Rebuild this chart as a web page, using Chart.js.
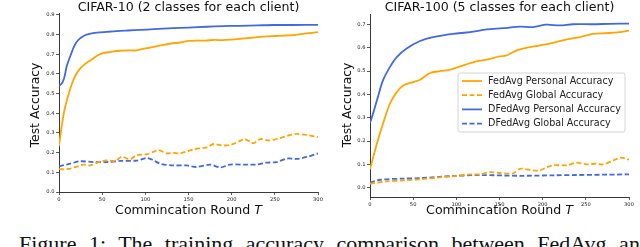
<!DOCTYPE html>
<html>
<head>
<meta charset="utf-8">
<script src="https://cdn.jsdelivr.net/npm/chart.js@4"></script>
<style>
  html, body { margin: 0; padding: 0; background: #fff; overflow: hidden; }
  body { width: 640px; height: 247px; position: relative; }
  #c10 { position: absolute; left: 0; top: 0; }
  #c100 { position: absolute; left: 325px; top: 0; }
  #caption {
    position: absolute; left: 19px; top: 233px; white-space: nowrap; line-height: 22px;
    font-family: "Liberation Serif", serif; font-size: 22px; color: #111; word-spacing: 7px;
  }
</style>
</head>
<body>
<canvas id="c10" width="330" height="226"></canvas>
<canvas id="c100" width="315" height="226"></canvas>
<div id="caption">Figure 1: The training accuracy comparison between FedAvg and DFedAvg</div>
<script>
// ---- data ----
const seriesNames = ["FedAvg Personal Accuracy", "FedAvg Global Accuracy", "DFedAvg Personal Accuracy", "DFedAvg Global Accuracy"];
const xTicks = [0, 50, 100, 150, 200, 250, 300];
const c10YTicks = [0, 0.1, 0.2, 0.3, 0.4, 0.5, 0.6, 0.7, 0.8, 0.9];
const c100YTicks = [0, 0.1, 0.2, 0.3, 0.4, 0.5, 0.6, 0.7];

// CIFAR-10
const c10FedPersT = [0,3,6,10,15,20,25,30,35,40,45,50,60,70,80,90,100,110,120,130,140,150,160,170,180,190,200,210,220,230,240,250,260,270,280,290,300];
const c10FedPers  = [0.233,0.33,0.41,0.48,0.55,0.60,0.63,0.65,0.665,0.68,0.695,0.705,0.712,0.718,0.72,0.72,0.73,0.738,0.747,0.755,0.76,0.768,0.77,0.77,0.773,0.772,0.775,0.779,0.783,0.787,0.791,0.793,0.795,0.797,0.803,0.808,0.813];
const c10FedGlobT = [0,9,17,28,36,46,55,65,73,82,90,102,110,115,125,132,140,156,171,179,188,198,210,215,225,233,244,256,266,275,287,300];
const c10FedGlob  = [0.116,0.116,0.123,0.139,0.135,0.152,0.161,0.158,0.179,0.166,0.187,0.192,0.205,0.213,0.196,0.199,0.196,0.217,0.227,0.244,0.237,0.239,0.26,0.27,0.248,0.269,0.262,0.274,0.288,0.295,0.29,0.279];
const c10DPersT = [0,3,6,9,13,17,20,24,28,32,38,44,55,67,80,94,110,132,150,171,190,210,230,248,270,300];
const c10DPers  = [0.54,0.55,0.58,0.64,0.69,0.735,0.76,0.78,0.792,0.80,0.806,0.81,0.814,0.818,0.821,0.824,0.828,0.833,0.836,0.84,0.843,0.845,0.847,0.849,0.849,0.85];
const c10DGlobT = [0,13,24,40,55,71,90,102,109,117,132,148,159,175,187,198,217,229,240,252,264,275,287,300];
const c10DGlob  = [0.13,0.144,0.156,0.152,0.152,0.158,0.16,0.173,0.162,0.144,0.135,0.135,0.127,0.139,0.125,0.139,0.139,0.14,0.149,0.152,0.17,0.168,0.178,0.196];

// CIFAR-100
const c100FedPersT = [0,8,15,23,31,39,50,58,69,81,93,104,120,135,150,158,170,181,197,212,228,243,251,258,274,289,300];
const c100FedPers  = [0.079,0.19,0.274,0.36,0.41,0.439,0.453,0.463,0.491,0.50,0.506,0.52,0.539,0.549,0.563,0.567,0.589,0.60,0.61,0.621,0.636,0.646,0.653,0.66,0.663,0.667,0.674];
const c100FedGlobT = [0,19,39,58,77,96,116,127,139,150,162,166,174,189,197,204,212,228,239,251,262,270,282,291,300];
const c100FedGlob  = [0.017,0.027,0.031,0.036,0.043,0.049,0.057,0.057,0.067,0.063,0.06,0.062,0.081,0.074,0.074,0.086,0.096,0.096,0.107,0.10,0.103,0.10,0.117,0.129,0.12];
const c100DPersT = [0,4,10,15,23,31,42,58,73,96,116,135,154,174,189,204,220,235,258,278,300];
const c100DPers  = [0.277,0.324,0.40,0.46,0.517,0.56,0.596,0.629,0.646,0.66,0.667,0.679,0.684,0.691,0.689,0.699,0.696,0.701,0.701,0.703,0.704];
const c100DGlobT = [0,12,39,58,96,127,174,212,300];
const c100DGlob  = [0.021,0.034,0.039,0.041,0.05,0.054,0.051,0.053,0.057];

const ORANGE = '#FFA500';
const BLUE = '#4169E1';
const FONT = "'DejaVu Sans', sans-serif";

function pts(ts, vs) {
    return ts.map((t, i) => ({x: t, y: vs[i]}));
}

function makeSets(fp, fg, dp, dg) {
    const styles = [[ORANGE, []], [ORANGE, [5, 2.5]], [BLUE, []], [BLUE, [5, 2.5]]];
    return [fp, fg, dp, dg].map((d, i) => ({
        label: seriesNames[i],
        data: d,
        borderColor: styles[i][0],
        borderDash: styles[i][1],
        borderWidth: 1.8,
        pointRadius: 0,
        tension: 0.3,
        fill: false
    }));
}

// titles / axis labels drawn at fixed spots around the plot
const figText = {
    id: 'figText',
    afterDraw(chart, args, opts) {
        const ctx = chart.ctx;
        const a = chart.chartArea;
        ctx.save();
        ctx.fillStyle = '#111';
        ctx.textBaseline = 'middle';
        ctx.font = "12.6px " + FONT;
        ctx.textAlign = 'center';
        ctx.fillText(opts.title, (a.left + a.right) / 2, 7.5);

        // x label with italic T
        const main = 'Commincation Round ';
        const w1 = ctx.measureText(main).width;
        ctx.font = "italic 12.6px " + FONT;
        const w2 = ctx.measureText('T').width;
        const x0 = (a.left + a.right) / 2 - (w1 + w2) / 2;
        ctx.textAlign = 'left';
        ctx.font = "12.6px " + FONT;
        ctx.fillText(main, x0, 210.5);
        ctx.font = "italic 12.6px " + FONT;
        ctx.fillText('T', x0 + w1, 210.5);

        // y label
        ctx.font = "12.4px " + FONT;
        ctx.textAlign = 'center';
        ctx.translate(opts.yTitleX, 105);
        ctx.rotate(-Math.PI / 2);
        ctx.fillText('Test Accuracy', 0, 0);
        ctx.restore();

        if (opts.legend) {
            const L = opts.legend;
            ctx.save();
            ctx.beginPath();
            ctx.roundRect(L.x, L.y, L.w, L.h, 2);
            ctx.fillStyle = 'rgba(255,255,255,0.85)';
            ctx.fill();
            ctx.strokeStyle = '#d4d4d4';
            ctx.lineWidth = 1;
            ctx.stroke();
            ctx.font = "9.6px " + FONT;
            ctx.textBaseline = 'middle';
            chart.data.datasets.forEach((ds, i) => {
                const yy = L.y + 8 + i * 14.2;
                ctx.beginPath();
                ctx.setLineDash(ds.borderDash);
                ctx.strokeStyle = ds.borderColor;
                ctx.lineWidth = 1.8;
                ctx.moveTo(L.x + 4, yy);
                ctx.lineTo(L.x + 24, yy);
                ctx.stroke();
                ctx.setLineDash([]);
                ctx.fillStyle = '#222';
                ctx.fillText(ds.label, L.x + 30, yy);
            });
            ctx.restore();
        }
    }
};

function axisCfg(ticks, min, max, size, isX) {
    return {
        type: 'linear',
        min: min,
        max: max,
        afterBuildTicks: (s) => { s.ticks = ticks.map(v => ({value: v})); },
        afterFit: (s) => { if (isX) s.height = size; else s.width = size; },
        grid: {display: true, drawOnChartArea: false, drawTicks: true, tickLength: 3, color: '#333', lineWidth: 0.8},
        border: {display: true, color: '#222', width: 0.9},
        ticks: {
            font: {family: FONT, size: 5.2},
            color: '#222',
            padding: 1.5,
            maxRotation: 0,
            autoSkip: false,
            callback: (v) => isX ? String(v) : v.toFixed(1)
        }
    };
}

function baseOptions(o) {
    return {
        responsive: false,
        animation: false,
        layout: {padding: {left: 0, top: o.top, right: o.right, bottom: 0}},
        scales: {
            x: axisCfg(xTicks, 0, 300, o.xh, true),
            y: axisCfg(o.yTicks, o.ymin, o.ymax, o.yw, false)
        },
        plugins: {
            legend: {display: false},
            tooltip: {enabled: false},
            figText: {title: o.title, yTitleX: o.yTitleX, legend: o.legend}
        }
    };
}

new Chart(document.getElementById('c10').getContext('2d'), {
    type: 'line',
    data: {datasets: makeSets(pts(c10FedPersT, c10FedPers), pts(c10FedGlobT, c10FedGlob), pts(c10DPersT, c10DPers), pts(c10DGlobT, c10DGlob))},
    options: baseOptions({top: 13, right: 12, xh: 34, yw: 59, yTicks: c10YTicks, ymin: 0, ymax: 0.91,
        title: 'CIFAR-10 (2 classes for each client)', yTitleX: 36}),
    plugins: [figText]
});

new Chart(document.getElementById('c100').getContext('2d'), {
    type: 'line',
    data: {datasets: makeSets(pts(c100FedPersT, c100FedPers), pts(c100FedGlobT, c100FedGlob), pts(c100DPersT, c100DPers), pts(c100DGlobT, c100DGlob))},
    options: baseOptions({top: 14, right: 11, xh: 29, yw: 45, yTicks: c100YTicks, ymin: -0.04, ymax: 0.745,
        title: 'CIFAR-100 (5 classes for each client)', yTitleX: 22.5,
        legend: {x: 133, y: 73, w: 167, h: 59}}),
    plugins: [figText]
});
</script>
</body>
</html>
